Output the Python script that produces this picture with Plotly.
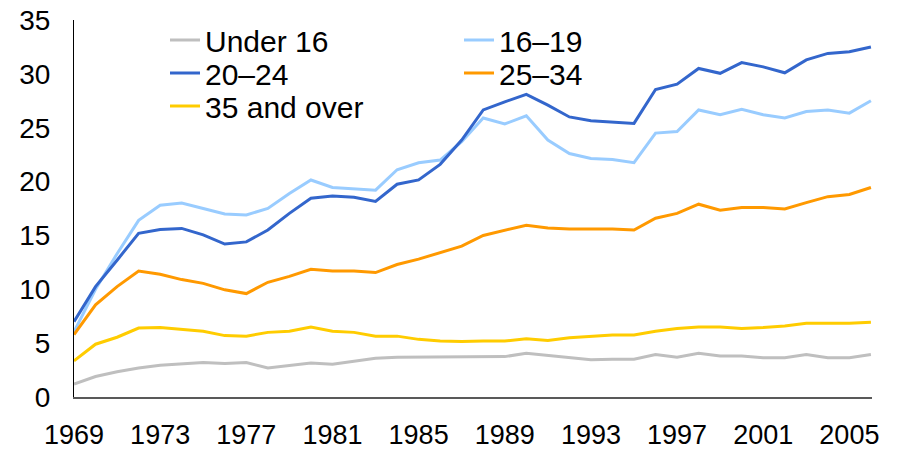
import plotly.graph_objects as go

years = list(range(1969, 2007))

under16 = [1.2, 1.9, 2.35, 2.7, 2.95, 3.1, 3.2, 3.1, 3.2, 2.7, 2.95, 3.15, 3.05, 3.35, 3.6, 3.7, 3.7, 3.75,
           3.75, 3.75, 3.75, 4.05, 3.85, 3.6, 3.45, 3.5, 3.5, 3.95, 3.7, 4.05, 3.8, 3.8, 3.65, 3.65,
           3.95, 3.65, 3.65, 3.95]
age16_19 = [6.05, 10.0, 13.3, 16.4, 17.8, 18.0, 17.5, 17.0, 16.9, 17.5, 18.9, 20.15, 19.45, 19.3, 19.2, 21.1,
            21.75, 22.0, 23.7, 25.9, 25.35, 26.1, 23.85, 22.6, 22.15, 22.05, 21.75, 24.5, 24.65, 26.65,
            26.2, 26.7, 26.2, 25.9, 26.5, 26.65, 26.35, 27.5]
age20_24 = [7.0, 10.25, 12.7, 15.2, 15.55, 15.65, 15.05, 14.2, 14.4, 15.5, 17.05, 18.45, 18.65, 18.55, 18.15,
            19.75, 20.15, 21.6, 23.85, 26.65, 27.4, 28.1, 27.1, 26.0, 25.65, 25.5, 25.4, 28.55, 29.05,
            30.5, 30.05, 31.05, 30.65, 30.1, 31.3, 31.9, 32.05, 32.5]
age25_34 = [5.8, 8.55, 10.25, 11.7, 11.4, 10.9, 10.55, 9.95, 9.6, 10.65, 11.2, 11.85, 11.7, 11.7, 11.55, 12.3,
            12.8, 13.4, 14.0, 15.0, 15.5, 15.95, 15.7, 15.6, 15.6, 15.6, 15.5, 16.6, 17.05, 17.9, 17.35,
            17.6, 17.6, 17.45, 18.05, 18.6, 18.8, 19.45]
age35_over = [3.35, 4.9, 5.55, 6.4, 6.45, 6.3, 6.1, 5.7, 5.65, 6.0, 6.1, 6.5, 6.1, 6.0, 5.65, 5.65, 5.35, 5.2,
              5.15, 5.2, 5.2, 5.4, 5.25, 5.5, 5.65, 5.75, 5.75, 6.1, 6.35, 6.5, 6.5, 6.35, 6.45, 6.6, 6.85,
              6.85, 6.85, 6.95]

x_tick_years = list(range(1969, 2006, 4))
y_ticks = [0, 5, 10, 15, 20, 25, 30, 35]

# (name, values, colour, legend id)
series = [
    ("Under 16", under16, "#BFBFBF", "legend"),
    ("16–19", age16_19, "#99CCFF", "legend2"),
    ("20–24", age20_24, "#3366CC", "legend3"),
    ("25–34", age25_34, "#FF9900", "legend4"),
    ("35 and over", age35_over, "#FFCC00", "legend5"),
]

W, H = 899, 449
ML, MR, MT, MB = 74, 27, 20, 52
plot_w = W - ML - MR
plot_h = H - MT - MB

def px_x(px):
    return (px - ML) / plot_w

def px_y(py):
    return (H - MB - py) / plot_h

fig = go.Figure()
for name, vals, color, lg in series:
    fig.add_trace(go.Scatter(x=years, y=vals, name=name, mode="lines",
                             line=dict(color=color, width=3), legend=lg))

font = dict(family="Liberation Sans, Arial, sans-serif", size=28, color="#000000")
leg_font = dict(family="Liberation Sans, Arial, sans-serif", size=30, color="#000000")

# legend item placement (left x, row centre y) in page pixels
leg_pos = {
    "legend": (165, 40),
    "legend2": (459, 40),
    "legend3": (165, 73),
    "legend4": (459, 73),
    "legend5": (165, 106),
}
leg_layout = {}
for key, (lx, ly) in leg_pos.items():
    leg_layout[key] = dict(x=px_x(lx), y=px_y(ly), xanchor="left", yanchor="middle",
                           bgcolor="rgba(0,0,0,0)", font=leg_font, itemwidth=30)

fig.update_layout(
    width=W, height=H,
    margin=dict(l=ML, r=MR, t=MT, b=MB, autoexpand=False),
    paper_bgcolor="white", plot_bgcolor="white",
    font=font,
    showlegend=True,
    **leg_layout,
    xaxis=dict(range=[1969, 2006.05], tickmode="array", tickvals=x_tick_years,
               ticktext=[str(y) for y in x_tick_years], showgrid=False, zeroline=False,
               showline=True, linecolor="#595959", linewidth=1.5, ticks="",
               ticklabelstandoff=13, tickfont=dict(size=27), automargin=False,
               ticklabeloverflow="allow"),
    yaxis=dict(range=[0, 35], tickmode="array", tickvals=y_ticks, showgrid=False,
               zeroline=False, showline=True, linecolor="#000000", linewidth=1,
               ticks="", ticklabelstandoff=17, tickfont=dict(size=28), automargin=False,
               ticklabeloverflow="allow"),
)

fig.write_html("out.html",
               config={"displayModeBar": False},
               post_script="document.body.style.margin='0px';document.body.style.overflow='hidden';")
